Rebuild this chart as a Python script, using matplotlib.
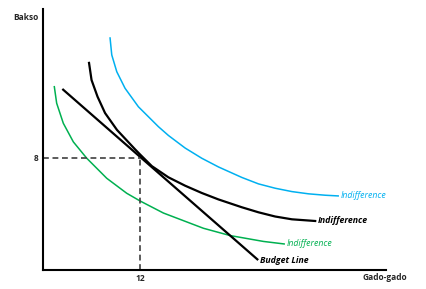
import matplotlib
matplotlib.use("Agg")
import matplotlib.pyplot as plt

# indifference curve (blue, highest utility)
blue_x = [8.29, 8.50, 9.12, 10.14, 11.79, 14.26, 15.50, 17.57, 19.63, 21.69,
          24.58, 26.64, 28.70, 30.77, 32.82, 34.89, 36.49]
blue_y = [16.57, 15.36, 14.16, 12.98, 11.66, 10.24, 9.61, 8.71, 7.98, 7.36,
          6.61, 6.15, 5.84, 5.60, 5.44, 5.34, 5.29]

# indifference curve (black, tangent to budget line)
black_x = [5.69, 6.00, 6.74, 7.67, 9.15, 11.38, 12.0, 13.45, 15.50, 17.57, 19.63,
           21.69, 24.58, 26.64, 28.70, 30.77, 33.65]
black_y = [14.79, 13.57, 12.38, 11.21, 10.00, 8.62, 8.25, 7.42, 6.62, 6.02, 5.50,
           5.04, 4.48, 4.12, 3.82, 3.62, 3.50]

# indifference curve (green, lowest utility)
green_x = [1.40, 1.69, 2.51, 3.75, 5.41, 7.88, 10.35, 12.0, 14.88, 19.83, 23.13, 27.25, 29.81]
green_y = [13.09, 11.91, 10.48, 9.15, 7.98, 6.55, 5.48, 4.93, 4.07, 2.98, 2.46, 2.04, 1.86]

# budget line end points
budget_x = [2.39, 26.60]
budget_y = [12.93, 0.71]

# optimum bundle
opt_x = 12
opt_y = 8

FONT = "Open Sans"
BLUE = "#00B0F0"
GREEN = "#00B050"

fig = plt.figure(figsize=(4.26, 2.89), dpi=100)
ax = fig.add_axes([43 / 426, 19 / 289, 343 / 426, 261 / 289])

ax.plot(blue_x, blue_y, color=BLUE, lw=1.1, solid_joinstyle="round")
ax.plot(black_x, black_y, color="black", lw=1.6, solid_joinstyle="round")
ax.plot(green_x, green_y, color=GREEN, lw=1.1, solid_joinstyle="round")
ax.plot(budget_x, budget_y, color="black", lw=1.6, solid_capstyle="butt")

ax.plot([0, opt_x], [opt_y, opt_y], color="#404040", lw=1.2, dashes=(3.5, 2.2))
ax.plot([opt_x, opt_x], [0, opt_y], color="#404040", lw=1.2, dashes=(3.5, 2.2))

lbl = dict(textcoords="offset points", ha="left", va="center", fontsize=6.3, family=FONT)
ax.annotate("Indifference", xy=(blue_x[-1], blue_y[-1]), xytext=(1.5, 0),
            color=BLUE, style="italic", **lbl)
ax.annotate("Indifference", xy=(black_x[-1], black_y[-1]), xytext=(1.5, 0),
            color="black", style="italic", weight="bold", **lbl)
ax.annotate("Indifference", xy=(green_x[-1], green_y[-1]), xytext=(1.5, 0),
            color=GREEN, style="italic", **lbl)
ax.annotate("Budget Line", xy=(budget_x[-1], budget_y[-1]), xytext=(1.0, 0),
            color="black", style="italic", weight="bold", **lbl)

ax.set_xlim(0, 42.4)
ax.set_ylim(0, 18.64)
for s in ["top", "right"]:
    ax.spines[s].set_visible(False)
for s in ["left", "bottom"]:
    ax.spines[s].set_linewidth(1.5)

ax.set_xticks([opt_x])
ax.set_yticks([opt_y])
ax.tick_params(length=0, labelsize=6, colors="#262626", pad=3)
for t in ax.get_xticklabels() + ax.get_yticklabels():
    t.set_fontfamily(FONT)
    t.set_fontweight("bold")

fig.text(38 / 426, 1 - 17 / 289, "Bakso", ha="right", va="center",
         fontsize=6, family=FONT, weight="bold", color="#262626")
fig.text(385 / 426, 1 - 278 / 289, "Gado-gado", ha="center", va="center",
         fontsize=6, family=FONT, weight="bold", color="#262626")

fig.savefig("out.png", dpi=100)
